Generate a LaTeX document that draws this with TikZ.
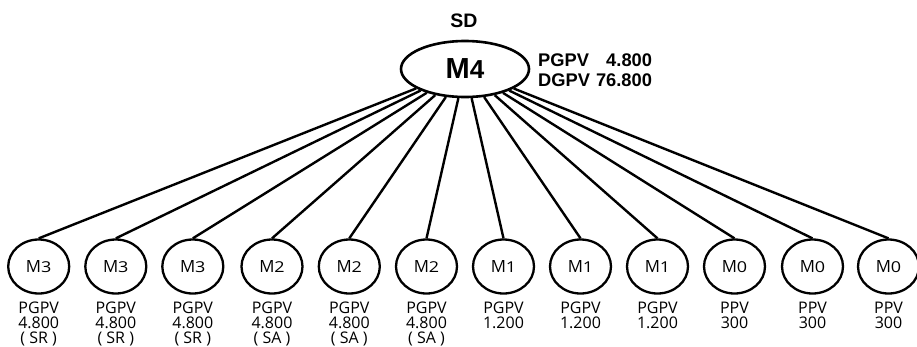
\documentclass[tikz,border=0pt]{standalone}
\usepackage{fontspec}
\usepackage{graphicx}
\setmainfont{Open Sans}
\newfontfamily\hvb{Liberation Sans}
\usetikzlibrary{shapes.geometric}
\newcommand\Mlab[1]{M{\fontsize{15}{15}\selectfont\scalebox{1.2}[1]{#1}}}
\begin{document}
\begin{tikzpicture}[x=1pt,y=-1pt,
  leaf/.style={draw, ellipse, line width=2.3pt, minimum width=61pt, minimum height=54pt, inner sep=0pt, font=\fontsize{16.8}{16.8}\selectfont},
  root/.style={draw, ellipse, line width=2.6pt, minimum width=128pt, minimum height=56pt, inner sep=0pt, font=\hvb\bfseries\fontsize{29}{29}\selectfont},
  info/.style={align=center, font=\fontsize{16}{14.3}\selectfont, inner sep=0pt, anchor=base},
  link/.style={line width=2.4pt},
  boldtxt/.style={font=\hvb\bfseries\fontsize{18.3}{19.3}\selectfont, inner sep=0pt}]
\useasboundingbox (0,0) rectangle (917,346);
\node[root] (root) at (465,69) {M{\fontsize{26}{26}\selectfont 4}};
\node[boldtxt, font=\hvb\bfseries\fontsize{19.5}{19.5}\selectfont, anchor=base] (sd) at (464,27) {SD};
\node[boldtxt, anchor=base west] (vals) at (538,66.7)
  {\begin{tabular}[t]{@{}l@{\hspace{6pt}}r@{}}PGPV & 4.800\\ DGPV & 76.800\end{tabular}};
\foreach \x/\m/\t [count=\i] in {
  38.7/3/{PGPV\\4.800\\[-1.6pt]( SR )},
  115.8/3/{PGPV\\4.800\\[-1.6pt]( SR )},
  192.8/3/{PGPV\\4.800\\[-1.6pt]( SR )},
  272/2/{PGPV\\4.800\\[-1.6pt]( SA )},
  349.3/2/{PGPV\\4.800\\[-1.6pt]( SA )},
  426.5/2/{PGPV\\4.800\\[-1.6pt]( SA )},
  503.5/1/{PGPV\\1.200},
  580.5/1/{PGPV\\1.200},
  657.5/1/{PGPV\\1.200},
  734.5/0/{PPV\\300},
  812.5/0/{PPV\\300},
  888.5/0/{PPV\\300}}{
  \node[leaf] (l\i) at (\x,266.5) {\Mlab{\m}};
  \node[info] (t\i) at (\x,313) {\begin{tabular}[t]{@{}c@{}}\t\end{tabular}};
  \draw[link] (root) -- (l\i.north);
}
\end{tikzpicture}
\end{document}
